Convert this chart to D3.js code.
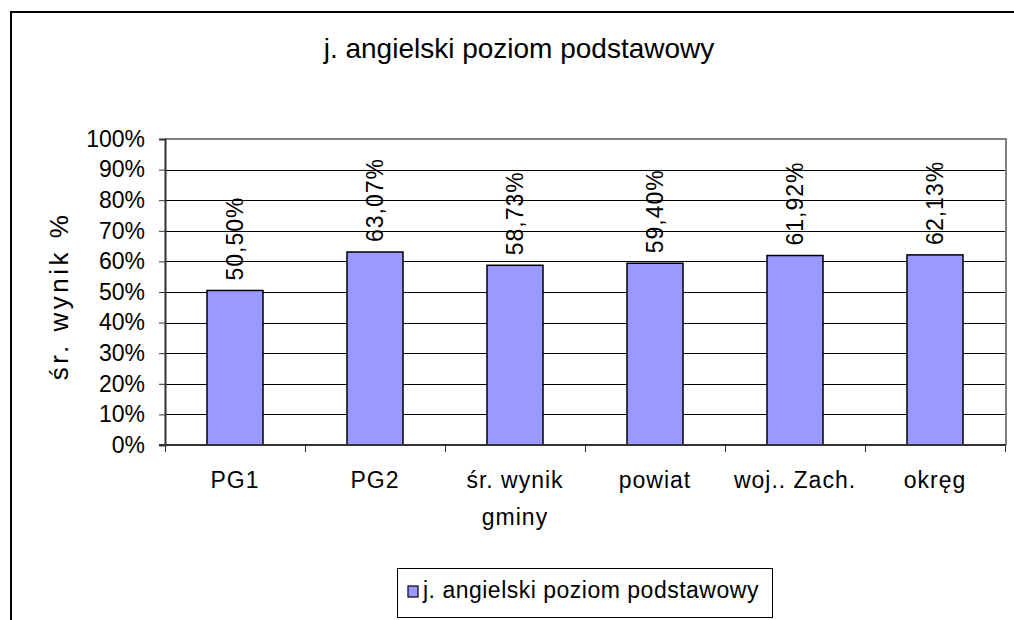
<!DOCTYPE html>
<html>
<head>
<meta charset="utf-8">
<script src="https://cdn.jsdelivr.net/npm/d3@7"></script>
<style>
  body { margin: 0; background: #fff; }
  text { font-family: "Liberation Sans", Arial, sans-serif; fill: #000; }
</style>
</head>
<body>
<div id="chart-area"></div>
<script>
// chart data
var categories = ["PG1", "PG2", "śr. wynik\ngminy", "powiat", "woj.. Zach.", "okręg"];
var values = [50.50, 63.07, 58.73, 59.40, 61.92, 62.13];
var yTicks = [0, 10, 20, 30, 40, 50, 60, 70, 80, 90, 100];
var seriesName = "j. angielski poziom podstawowy";
var chartTitle = "j. angielski poziom podstawowy";
var yTitle = "śr. wynik %";

var W = 1014, H = 620;
var plot = { left: 165, right: 1006, top: 139, bottom: 445 };

var svg = d3.select("#chart-area")
        .append("svg")
                .attr("width", W)
                .attr("height", H);

// outer frame (right / bottom run off the picture)
svg.append("path")
        .attr("d", "M11,622 V12 H1016")
        .attr("fill", "none")
        .attr("stroke", "#000")
        .attr("stroke-width", 2);

svg.append("text")
        .attr("x", 519)
        .attr("y", 58)
        .attr("font-size", "28px")
        .attr("text-anchor", "middle")
        .text(chartTitle);

var x = d3.scaleBand()
        .domain(categories)
        .range([plot.left, plot.right - 1])
        .paddingInner(0.6)
        .paddingOuter(0.3);

var y = d3.scaleLinear()
        .domain([0, 100])
        .range([plot.bottom, plot.top]);

// gridlines
svg.append("g")
        .selectAll("line")
        .data(yTicks.slice(1, -1))
        .enter()
        .append("line")
        .attr("x1", plot.left)
        .attr("x2", plot.right)
        .attr("y1", d => Math.round(y(d)) + 0.5)
        .attr("y2", d => Math.round(y(d)) + 0.5)
        .attr("stroke", "#000")
        .attr("stroke-width", 1.2);

// plot frame top + right in grey
svg.append("path")
        .attr("d", "M" + plot.left + "," + plot.top + " H" + plot.right + " V" + plot.bottom)
        .attr("fill", "none")
        .attr("stroke", "#808080")
        .attr("stroke-width", 2);

// bars
svg.selectAll("rect.bar")
        .data(values)
        .enter()
        .append("rect")
        .attr("class", "bar")
        .attr("x", (d, i) => x(categories[i]))
        .attr("y", d => y(d))
        .attr("width", x.bandwidth())
        .attr("height", d => plot.bottom - y(d))
        .attr("fill", "#9999ff")
        .attr("stroke", "#000")
        .attr("stroke-width", 1.5);

// value labels, rotated
svg.selectAll("text.val")
        .data(values)
        .enter()
        .append("text")
        .attr("class", "val")
        .attr("transform", (d, i) => "translate(" + (x(categories[i]) + x.bandwidth() / 2 + 8) + "," + (y(d) - 10) + ") rotate(-90)")
        .attr("font-size", "23px")
        .attr("letter-spacing", "1px")
        .text(d => d.toFixed(2).replace(".", ",") + "%");

// y axis
var yAxisCall = d3.axisLeft(y)
        .tickValues(yTicks)
        .tickSize(6)
        .tickPadding(14)
        .tickFormat(d => d + "%");
var yAxis = svg.append("g")
        .attr("transform", "translate(" + plot.left + ",0)")
        .call(yAxisCall);
yAxis.select(".domain").attr("stroke", "#333").attr("stroke-width", 2);
yAxis.selectAll(".tick line").attr("stroke", "#333");
yAxis.selectAll("text")
        .attr("font-size", "23px")
        .attr("font-family", "Liberation Sans, Arial, sans-serif")
        .attr("fill", "#000");

// x axis: ticks between categories
var boundaries = d3.range(categories.length + 1).map(i => plot.left + i * x.step());
svg.append("line")
        .attr("x1", plot.left - 6)
        .attr("x2", plot.right)
        .attr("y1", plot.bottom)
        .attr("y2", plot.bottom)
        .attr("stroke", "#333")
        .attr("stroke-width", 2);
svg.append("g")
        .selectAll("line")
        .data(boundaries)
        .enter()
        .append("line")
        .attr("x1", d => Math.round(d) + 0.5)
        .attr("x2", d => Math.round(d) + 0.5)
        .attr("y1", plot.bottom)
        .attr("y2", plot.bottom + 7)
        .attr("stroke", "#333");

var xl = svg.selectAll("text.cat")
        .data(categories)
        .enter()
        .append("text")
        .attr("class", "cat")
        .attr("text-anchor", "middle")
        .attr("font-size", "23px")
        .attr("letter-spacing", "1px");
xl.selectAll("tspan")
        .data(d => d.split("\n").map(s => ({ s: s, c: d })))
        .enter()
        .append("tspan")
        .attr("x", d => x(d.c) + x.bandwidth() / 2)
        .attr("y", (d, i) => 488 + i * 37)
        .text(d => d.s);

// y title
svg.append("text")
        .attr("transform", "translate(68,296) rotate(-90)")
        .attr("text-anchor", "middle")
        .attr("font-size", "26px")
        .attr("letter-spacing", "3.5px")
        .text(yTitle);

// legend
var lg = svg.append("g");
lg.append("rect")
        .attr("x", 397.5)
        .attr("y", 568.5)
        .attr("width", 375)
        .attr("height", 49)
        .attr("fill", "#fff")
        .attr("stroke", "#000");
lg.append("rect")
        .attr("x", 408)
        .attr("y", 586)
        .attr("width", 10)
        .attr("height", 11)
        .attr("fill", "#9999ff")
        .attr("stroke", "#000")
        .attr("stroke-width", 1.2);
lg.append("text")
        .attr("x", 423)
        .attr("y", 598)
        .attr("font-size", "23px")
        .attr("letter-spacing", "0.5px")
        .text(seriesName);
</script>
</body>
</html>
